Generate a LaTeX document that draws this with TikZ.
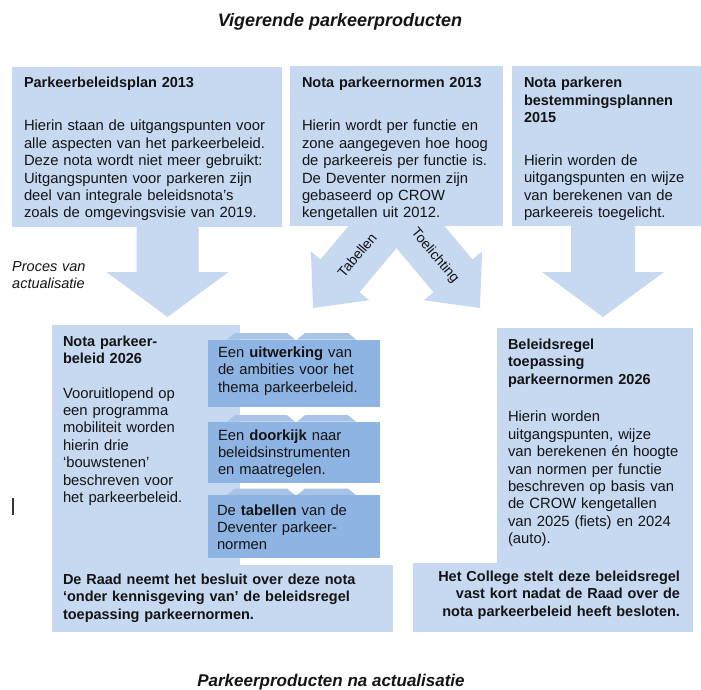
\documentclass[tikz,border=0pt]{standalone}
\usepackage{fontspec}
\setmainfont{Liberation Sans}
\definecolor{boxblue}{HTML}{C6D9F1}
\definecolor{tabblue}{HTML}{8EB4E3}
\definecolor{bumpblue}{HTML}{A8C3E6}
\definecolor{ink}{HTML}{141414}
\tikzset{
  box/.style={fill=boxblue, draw=none},
  tabbox/.style={fill=tabblue, draw=none},
  bumpbox/.style={fill=bumpblue, draw=none},
  txt/.style={anchor=base west, align=left, text width=#1, inner sep=0pt, outer sep=0pt, text=ink,
              font=\fontsize{14.8}{17.45}\selectfont},
  txt/.default=200pt,
  hd/.style={txt=#1, font=\bfseries\fontsize{14.5}{17.45}\selectfont},
  hd/.default=200pt,
  rtxt/.style={anchor=base east, align=right, text width=#1, inner sep=0pt, outer sep=0pt, text=ink,
              font=\bfseries\fontsize{14.5}{17.45}\selectfont},
  ttl/.style={anchor=base, inner sep=0pt, text=ink, font=\bfseries\itshape\fontsize{18}{20}\selectfont},
  arlabel/.style={anchor=center, inner sep=0pt, text=ink, font=\fontsize{14}{16}\selectfont},
}
\begin{document}
\begin{tikzpicture}[x=1pt,y=-1pt]
\useasboundingbox (0,0) rectangle (701,690);

% titles
\node[ttl] (title) at (340,27) {Vigerende parkeerproducten};
\node[ttl, font=\bfseries\itshape\fontsize{17}{20}\selectfont] (title2) at (331,686) {Parkeerproducten na actualisatie};

% block arrows (top row to bottom row)
\fill[boxblue] (136.5,215) -- (198.5,215) -- (198.5,272) -- (228.5,272) -- (167.5,317) -- (106.5,272) -- (136.5,272) -- cycle;
\fill[boxblue] (571,215) -- (635,215) -- (635,272) -- (664,272) -- (603,317) -- (542,272) -- (571,272) -- cycle;
\fill[boxblue] (313,308) -- (369.11,300.26) -- (359.53,292.22) -- (428.95,209.49) -- (389.89,176.71) -- (320.47,259.44) -- (310.89,251.4) -- cycle;
\fill[boxblue] (480,308) -- (423.89,300.26) -- (433.47,292.22) -- (364.05,209.49) -- (403.11,176.71) -- (472.53,259.44) -- (482.11,251.4) -- cycle;

% top boxes
\fill[box] (12,67) rectangle (282,227);
\fill[box] (290,66) rectangle (503,226);
\fill[box] (512,66) rectangle (701,226);

\node[hd=190pt] (h1) at (24,88) {Parkeerbeleidsplan 2013};
\node[txt=252pt] (b1) at (24,130.7) {Hierin staan de uitgangspunten voor\\alle aspecten van het parkeerbeleid.\\Deze nota wordt niet meer gebruikt:\\Uitgangspunten voor parkeren zijn\\deel van integrale beleidsnota’s\\zoals de omgevingsvisie van 2019.};

\node[hd=195pt] (h2) at (302,88) {Nota parkeernormen 2013};
\node[txt=195pt] (b2) at (302,130.7) {Hierin wordt per functie en\\zone aangegeven hoe hoog\\de parkeereis per functie is.\\De Deventer normen zijn\\gebaseerd op CROW\\kengetallen uit 2012.};

\node[hd=172pt] (h3) at (524,88) {Nota parkeren\\bestemmingsplannen\\2015};
\node[txt=172pt] (b3) at (524,165.5) {Hierin worden de\\uitgangspunten en wijze\\van berekenen van de\\parkeereis toegelicht.};

% arrow labels
\node[arlabel, rotate=50] (lbl1) at (357,255) {Tabellen};
\node[arlabel, rotate=-50] (lbl2) at (435,256) {Toelichting};
\node[anchor=base west, inner sep=0pt, text=ink, align=left, text width=90pt,
      font=\itshape\fontsize{14.5}{17}\selectfont] (proc) at (12,271) {Proces van\\actualisatie};

% lower left composite box
\fill[box] (52,325) rectangle (240,566);
\fill[box] (52,565) rectangle (393,632);

% tabs
\foreach \yt/\yb in {339.5/406.7, 421.7/483.3, 495/558.3}{
  \fill[bumpbox] (227,\yt) -- (235,\yt-6.5) -- (287,\yt-6.5) -- (295,\yt) -- cycle;
  \fill[bumpbox] (297,\yt) -- (305,\yt-6.5) -- (348,\yt-6.5) -- (356,\yt) -- cycle;
  \fill[tabbox] (207.5,\yt) rectangle (379.5,\yb);
}

\node[hd=125pt] (h4) at (63,346.5) {Nota parkeer-\\beleid 2026};
\node[txt=130pt] (b4) at (63,398) {Vooruitlopend op\\een programma\\mobiliteit worden\\hierin drie\\‘bouwstenen’\\beschreven voor\\het parkeerbeleid.};

\node[txt=155pt] (t1) at (218,357.5) {Een \textbf{uitwerking} van\\de ambities voor het\\thema parkeerbeleid.};
\node[txt=155pt] (t2) at (218,440) {Een \textbf{doorkijk} naar\\beleidsinstrumenten\\en maatregelen.};
\node[txt=155pt] (t3) at (217,515) {De \textbf{tabellen} van de\\Deventer parkeer-\\normen};

\node[hd=315pt] (r4) at (63,584.5) {De Raad neemt het besluit over deze nota\\‘onder kennisgeving van’ de beleidsregel\\toepassing parkeernormen.};

% lower right composite box
\fill[box] (497,328) rectangle (693,564);
\fill[box] (413,563) rectangle (693,632);

\node[hd=170pt] (h5) at (508,349.5) {Beleidsregel\\toepassing\\parkeernormen 2026};
\node[txt=178pt] (b5) at (508,421.7) {Hierin worden\\uitgangspunten, wijze\\van berekenen én hoogte\\van normen per functie\\beschreven op basis van\\de CROW kengetallen\\van 2025 (fiets) en 2024\\(auto).};
\node[rtxt=260pt] (r5) at (680,581.5) {Het College stelt deze beleidsregel\\vast kort nadat de Raad over de\\nota parkeerbeleid heeft besloten.};

% stray text cursor
\draw[line width=1.3pt, draw=ink!85] (13,498) -- (13,515);
\end{tikzpicture}
\end{document}
